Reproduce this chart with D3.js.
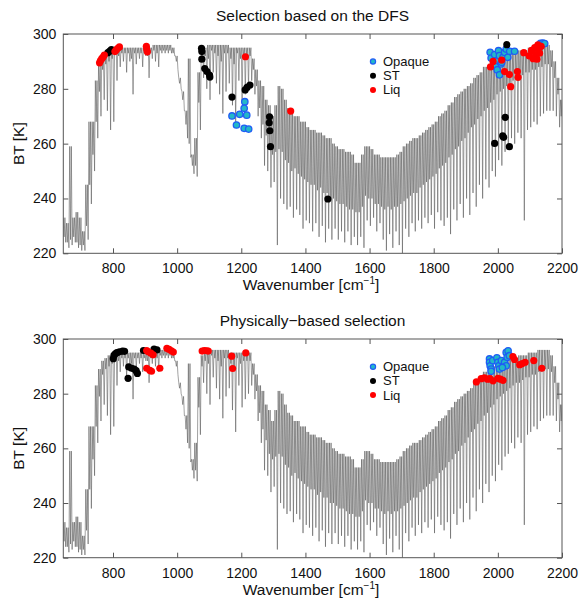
<!DOCTYPE html>
<html><head><meta charset="utf-8">
<script src="https://cdn.jsdelivr.net/npm/d3@7"></script>
<style>body{margin:0;background:#fff}svg{display:block}text{font-family:"Liberation Sans",Arial,Helvetica,sans-serif}</style>
</head><body><svg id="c" width="579" height="604"></svg>
<script>
// Spectrum: start wavenumber and step of the sampled envelopes (cm-1)
const specStart = 645, specStep = 10;
// upper envelope (line-free peaks) BT [K]
const specUpper = [233,231,259,233,235,233,228,245,268,268,283,289,292,293,294,294,295,295,295,295,
295,295,295,295,295,295,295,295,296,296,296,296,296,296,295,292,284,279,272,291,
256,262,286,294,295,296,296,296,296,296,296,296,295,295,295,295,295,295,295,291,
287,283,281,276,274,270,274,281,280,276,273,272,270,270,268,268,266,265,265,264,
264,263,262,262,260,259,258,258,257,257,256,253,253,256,259,259,258,256,256,255,
255,255,255,255,256,257,259,260,261,262,262,263,264,265,266,267,268,270,271,272,
274,275,277,278,279,280,281,282,284,285,286,288,288,289,290,291,292,292,293,293,
293,293,294,294,294,295,295,295,296,296,296,296,294,290,284,276];
// lower edge of the dense band BT [K]
const specMid = [226,224,225,226,224,223,223,230,245,256,268,279,287,289,290,291,
293,292,293,293,293,291,293,293,293,293,292,293,294,293,294,294,294,294,293,
290,282,276,267,260,252,252,275,290,
292,291,294,293,292,290,293,293,291,289,293,291,292,292,292,
287,281,273,267,263,258,256,257,258,257,254,253,250,251,249,248,247,246,245,
245,243,244,242,242,240,240,239,238,238,237,236,236,235,235,237,
241,240,240,238,238,237,236,237,236,237,237,238,239,240,241,242,242,244,245,246,247,248,249,251,
252,253,255,256,258,259,261,262,264,266,267,269,270,272,273,275,276,278,279,280,281,282,283,284,284,
285,286,286,287,287,288,288,289,289,288,284,278,270];
// deep line minima BT [K]
const specLower = [224,222,223,224,222,221,221,225,238,250,262,270,276,272,265,268,
283,288,290,286,290,278,289,291,288,292,284,291,290,288,293,293,293,293,292,
287,280,272,262,255,249,248,265,284,
280,276,286,282,278,271,279,282,274,266,283,275,278,280,283,
278,270,262,252,250,244,246,223,240,238,236,237,233,236,234,229,232,231,228,
231,226,230,224,229,225,229,225,228,224,228,223,226,223,226,222,
232,230,233,228,231,225,221,227,222,228,223,220,229,226,231,228,232,229,233,231,234,229,235,232,
230,233,227,236,232,238,233,240,234,242,237,245,240,247,244,250,248,254,252,257,258,262,260,264,262,
232,265,266,268,267,270,271,272,272,272,270,266,262];

// Panel 1: Selection based on the DFS
const dfsOpaqueWn = [1211,1209,1217,1195,1171,1185,1209,1223,1976,1979,1990,1995,2002,2005,2009,2016,2021,2026,2031,2037,2052,1992,1998,2005,2012,2133,2140,2146];
const dfsOpaqueBT = [275.3,272.9,270.4,270.7,270.1,266.8,265.6,265.3,293.3,291.2,292.5,290,293.9,292.1,289.1,291.5,293.3,294.5,291.5,293.7,293.7,288.1,286.9,285.1,289.7,296.6,296.7,296.5];
const dfsSTWn = [784,790,795,1076,1077,1077,1086,1093,1101,1102,1171,1212,1218,1227,1288,1287,1289,1291,1470,2028,2023,2015,2018,1990,2036];
const dfsSTBT = [293.2,293.8,294.3,294.8,293.6,290.8,287.4,286.3,285,284.3,277,279.6,280.5,281.4,269.8,267.6,264.7,258.9,239.8,296.1,269.6,262.8,262.3,260.1,258.9];
const dfsLiqWn = [758,761,765,769,773,806,810,815,820,904,905,907,1213,1354,1977,1985,2012,2021,2036,2040,2061,2063,2081,2098,2105,2110,2115,2118,2122,2126,2130,2125,2135];
const dfsLiqBT = [289.5,290.3,291,291.6,292.3,293.6,294.2,294.8,295.3,295.5,294.5,293.5,291.7,271.9,288,290,290.5,286.3,285.2,280.8,286.3,284.2,293.2,292,294,291,295,292.5,290.8,294.5,293,296,295.5];

// Panel 2: Physically-based selection
const physOpaqueWn = [1974,1974,1976,1979,1979,1984,1997,2000,2003,2005,2011,2021,2026,2026,2029,2032,2036,2014];
const physOpaqueBT = [292.7,291.5,290.2,289,288.2,292.1,293.1,291.5,290.2,289,292.1,291.5,290.2,295.1,293.3,295.7,293.9,289.6];
const physSTWn = [801,803,807,812,820,830,836,849,858,866,872,876,847,895,928,937];
const physSTBT = [292.8,294,294.6,295,295.3,295.6,295.5,289.8,289.3,289,288.4,287.4,285.6,295.8,296.3,296];
const physLiqWn = [905,910,918,925,905,915,920,946,968,975,982,988,1078,1085,1092,1097,1170,1173,1214,1933,1948,1958,1968,1975,1985,2000,2008,2016,2047,2052,2068,2076,2085,2112,2137];
const physLiqBT = [295.8,295.3,294.8,294.2,289.3,288.5,288.2,289.3,296.6,296.2,295.7,295.2,295.6,295.8,295.7,295.6,293.7,289.2,294.9,284.3,285.5,285.8,285.3,285.5,284.7,285.6,285.3,284.9,293.6,292.5,290.6,291,291.5,292.1,289.3];

const xTicks = [800,1000,1200,1400,1600,1800,2000,2200];
const yTicks = [220,240,260,280,300];
const legendLabels = ["Opaque","ST","Liq"];
const titles = ["Selection based on the DFS","Physically\u2212based selection"];

const svg = d3.select("#c");
const xDomain = [645, 2200], yDomain = [220, 300];
const colors = {
  Opaque: {fill:"#22b8c8", stroke:"#1f5cf5"},
  ST: {fill:"#000", stroke:"#000"},
  Liq: {fill:"#ff0000", stroke:"#ff0000"}
};

// spectrum polyline: each bin has a peak, a shallow dip, a peak and a deep dip
const spectrum = [];
specUpper.forEach((u,i)=>{
  const w = specStart + i*specStep;
  spectrum.push([w, u]);
  spectrum.push([w + specStep*0.25, specMid[i]]);
  spectrum.push([w + specStep*0.5, u]);
  spectrum.push([w + specStep*0.75, specLower[i]]);
});

function panel(top, bottom, title, sets, legendY){
  const L = 63.3, R = 562;
  const x = d3.scaleLinear().domain(xDomain).range([L, R]);
  const y = d3.scaleLinear().domain(yDomain).range([bottom, top]);
  const g = svg.append("g");
  const clipId = "clip"+Math.round(top);
  svg.append("clipPath").attr("id", clipId).append("rect")
    .attr("x",L).attr("y",top).attr("width",R-L).attr("height",bottom-top);
  g.append("path").datum(spectrum)
    .attr("clip-path","url(#"+clipId+")")
    .attr("d", d3.line().x(d=>x(d[0])).y(d=>y(d[1])))
    .attr("fill","none").attr("stroke","#555").attr("stroke-width",0.55);
  g.append("rect").attr("x",L).attr("y",top).attr("width",R-L).attr("height",bottom-top)
    .attr("fill","none").attr("stroke","#555").attr("stroke-width",1);
  const axB = d3.axisBottom(x).tickValues(xTicks).tickSize(-5).tickPadding(10).tickFormat(d3.format("d"));
  const axT = d3.axisTop(x).tickValues(xTicks).tickSize(-5).tickFormat("");
  const axL = d3.axisLeft(y).tickValues(yTicks).tickSize(-5).tickPadding(7);
  const axR = d3.axisRight(y).tickValues(yTicks).tickSize(-5).tickFormat("");
  [[axB,`translate(0,${bottom})`],[axT,`translate(0,${top})`],[axL,`translate(${L},0)`],[axR,`translate(${R},0)`]].forEach(([a,t])=>{
    const ag = g.append("g").attr("transform",t).call(a);
    ag.select(".domain").remove();
    ag.selectAll("line").attr("stroke","#555");
    ag.selectAll("text").attr("fill","#111").style("font-size","14px").style("font-family","'Liberation Sans',Arial,sans-serif");
  });
  g.append("text").attr("x",312.5).attr("y",top-13.5).attr("text-anchor","middle")
    .style("font-size","15.5px").attr("fill","#111").text(title);
  const xl = g.append("text").attr("x",311).attr("y",bottom+37).attr("text-anchor","middle")
    .style("font-size","15.5px").attr("fill","#111");
  xl.append("tspan").text("Wavenumber [cm");
  xl.append("tspan").attr("dy",-6).style("font-size","10px").text("\u22121");
  xl.append("tspan").attr("dy",6).text("]");
  g.append("text").attr("transform",`translate(24,${(top+bottom)/2}) rotate(-90)`).attr("text-anchor","middle")
    .style("font-size","15.5px").attr("fill","#111").text("BT [K]");
  sets.forEach(s=>{
    const c = colors[s.name];
    g.append("g").selectAll("circle").data(s.wn.map((w,i)=>[w,s.bt[i]])).join("circle")
      .attr("cx",d=>x(d[0])).attr("cy",d=>y(d[1])).attr("r", s.name==="Opaque"?3.2:3.6)
      .attr("fill",c.fill).attr("stroke",c.stroke).attr("stroke-width", s.name==="Opaque"?1.3:0);
  });
  legendLabels.forEach((lab,i)=>{
    const c = colors[lab];
    const ly = legendY + i*14.2;
    g.append("circle").attr("cx",373).attr("cy",ly).attr("r",lab==="Opaque"?2.6:3)
      .attr("fill",c.fill).attr("stroke",c.stroke).attr("stroke-width",lab==="Opaque"?1.2:0);
    g.append("text").attr("x",383).attr("y",ly+4.5).style("font-size","13px").attr("fill","#111").text(lab);
  });
}

panel(34, 253.3, titles[0], [
  {name:"Opaque", wn:dfsOpaqueWn, bt:dfsOpaqueBT},
  {name:"ST", wn:dfsSTWn, bt:dfsSTBT},
  {name:"Liq", wn:dfsLiqWn, bt:dfsLiqBT}
], 61.5);
panel(339, 557.7, titles[1], [
  {name:"Opaque", wn:physOpaqueWn, bt:physOpaqueBT},
  {name:"ST", wn:physSTWn, bt:physSTBT},
  {name:"Liq", wn:physLiqWn, bt:physLiqBT}
], 366.7);
</script></body></html>
